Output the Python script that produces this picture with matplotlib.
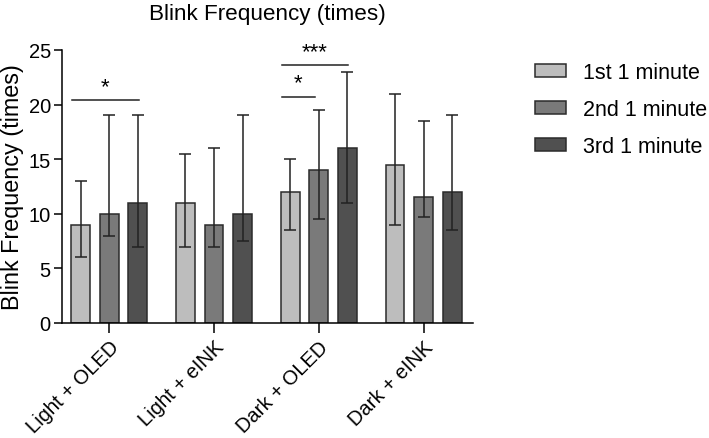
import matplotlib
matplotlib.use("Agg")
import matplotlib.pyplot as plt
import numpy as np

plt.rcParams['font.family'] = ['Liberation Sans', 'DejaVu Sans']

groups = ['Light + OLED', 'Light + eINK', 'Dark + OLED', 'Dark + eINK']
series = ['1st 1 minute', '2nd 1 minute', '3rd 1 minute']
colors = ['#bdbdbd', '#7a7a7a', '#505050']

# bar heights and error bar ends (low / high) per series
means = [[9, 11, 12, 14.5],
         [10, 9, 14, 11.5],
         [11, 10, 16, 12]]
low = [[6, 7, 8.5, 9],
       [8, 7, 9.5, 9.7],
       [7, 7.5, 11, 8.5]]
high = [[13, 15.5, 15, 21],
        [19, 16, 19.5, 18.5],
        [19, 19, 23, 19]]

# significance brackets: (group, from series, to series, height, label)
sig = [(0, 0, 2, 20.4, '*'),
       (2, 0, 1, 20.7, '*'),
       (2, 0, 2, 23.6, '***')]

fig = plt.figure(figsize=(7.09, 4.39), dpi=100)
ax = fig.add_axes([0.0874, 0.262, 0.5796, 0.622])

x = np.arange(len(groups))
step = 0.273
width = 0.18
for i, name in enumerate(series):
    m = np.array(means[i])
    yerr = [m - np.array(low[i]), np.array(high[i]) - m]
    ax.bar(x + (i - 1) * step, m, width, color=colors[i], edgecolor='#2b2b2b',
           linewidth=1.1, label=name, zorder=2)
    ax.errorbar(x + (i - 1) * step, m, yerr=yerr, fmt='none', ecolor='#222222',
                elinewidth=1.1, capsize=4.3, capthick=1.1, zorder=3)

for g, a, b, h, lab in sig:
    x0 = g + (a - 1) * step - width / 2 + 0.01
    if b == 1:
        x1 = g + (b - 1) * step - 0.04
    else:
        x1 = g + (b - 1) * step + 0.01
    ax.plot([x0, x1], [h, h], color='#222222', linewidth=1.1)
    ax.text((x0 + x1) / 2, h + 0.3, lab, ha='center', va='bottom', fontsize=16)

ax.set_xlim(-0.45, 3.47)
ax.set_ylim(0, 25)
ax.set_yticks([0, 5, 10, 15, 20, 25])
ax.set_xticks(x)
ax.set_xticklabels(groups, rotation=45, ha='right', rotation_mode='anchor', fontsize=14.5)
ax.tick_params(axis='y', labelsize=14.5, length=6, width=1.1, pad=2)
ax.tick_params(axis='x', length=7, width=1.1, pad=3)
ax.spines['top'].set_visible(False)
ax.spines['right'].set_visible(False)
ax.spines['left'].set_linewidth(1.1)
ax.spines['bottom'].set_linewidth(1.1)
ax.set_ylabel('Blink Frequency (times)', fontsize=16.8, labelpad=3)
ax.set_title('Blink Frequency (times)', fontsize=16.2, pad=22)

ax.legend(loc='upper left', bbox_to_anchor=(1.105, 1.026), frameon=False, fontsize=15.5,
          handlelength=1.4, handleheight=0.6, handletextpad=0.8, labelspacing=0.74)

fig.savefig('out.png', dpi=100)
